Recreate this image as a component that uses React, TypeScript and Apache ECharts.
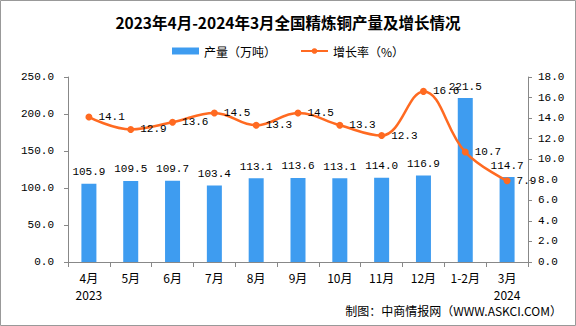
import React, { useEffect, useRef } from "react";
import * as echarts from "echarts";

const categories = ["4月\n2023", "5月", "6月", "7月", "8月", "9月", "10月", "11月", "12月", "1-2月", "3月\n2024"];
const output = [105.9, 109.5, 109.7, 103.4, 113.1, 113.6, 113.1, 114.0, 116.9, 221.5, 114.7];
const growth = [14.1, 12.9, 13.6, 14.5, 13.3, 14.5, 13.3, 12.3, 16.6, 10.7, 7.9];
const titleText = "2023年4月-2024年3月全国精炼铜产量及增长情况";
const barName = "产量（万吨）";
const lineName = "增长率（%）";
const footerText = "制图：中商情报网（WWW.ASKCI.COM）";

const MONO = "'Liberation Mono', 'DejaVu Sans Mono', monospace";
const CJK = "'Noto Sans CJK SC', sans-serif";

export default function App() {
  const ref = useRef<HTMLDivElement>(null);
  useEffect(() => {
    if (!ref.current) return;
    const chart = echarts.init(ref.current, undefined, { renderer: "svg" });
    chart.setOption({
      animation: false,
      backgroundColor: "#ffffff",
      title: {
        text: titleText,
        left: "center",
        top: 9,
        textStyle: { fontSize: 15.5, fontWeight: "bold", color: "#000", fontFamily: CJK },
      },
      legend: {
        top: 40,
        left: "center",
        itemGap: 24,
        itemWidth: 27,
        itemHeight: 7,
        textStyle: { fontSize: 12, color: "#000", fontFamily: CJK },
        data: [
          { name: barName, icon: "rect" },
          { name: lineName },
        ],
      },
      grid: { left: 68, right: 48, top: 77, bottom: 64, containLabel: false },
      xAxis: {
        type: "category",
        data: categories,
        axisLine: { lineStyle: { color: "#888" } },
        axisTick: { show: true, alignWithLabel: false, length: 5, lineStyle: { color: "#888" } },
        axisLabel: { color: "#000", fontSize: 12, fontFamily: CJK, lineHeight: 17, margin: 7, interval: 0 },
      },
      yAxis: [
        {
          type: "value",
          min: 0,
          max: 250,
          interval: 50,
          splitLine: { show: false },
          axisLine: { show: true, lineStyle: { color: "#888" } },
          axisTick: { show: true, length: 4, lineStyle: { color: "#888" } },
          axisLabel: { color: "#000", fontSize: 11, fontFamily: MONO, margin: 14, formatter: (v: number) => v.toFixed(1) },
        },
        {
          type: "value",
          min: 0,
          max: 18,
          interval: 2,
          splitLine: { show: false },
          axisLine: { show: true, lineStyle: { color: "#888" } },
          axisTick: { show: true, length: 4, lineStyle: { color: "#888" } },
          axisLabel: { color: "#000", fontSize: 11, fontFamily: MONO, margin: 10, formatter: (v: number) => v.toFixed(1) },
        },
      ],
      series: [
        {
          name: barName,
          type: "bar",
          data: output,
          barWidth: 15,
          itemStyle: { color: "#3E9CF0" },
          label: {
            show: true,
            position: "top",
            distance: 6,
            color: "#000",
            fontSize: 11,
            fontFamily: MONO,
            formatter: (p: any) => Number(p.value).toFixed(1),
          },
        },
        {
          name: lineName,
          type: "line",
          yAxisIndex: 1,
          data: growth,
          smooth: 0.4,
          symbol: "circle",
          symbolSize: 7,
          lineStyle: { color: "#FF6A21", width: 2.5 },
          itemStyle: { color: "#FF6A21" },
          label: {
            show: true,
            position: "right",
            distance: 6,
            color: "#000",
            fontSize: 11,
            fontFamily: MONO,
            formatter: (p: any) => Number(p.value).toFixed(1),
          },
          z: 5,
        },
      ],
      graphic: [
        {
          type: "rect",
          shape: { x: 0.5, y: 0.5, width: 575, height: 325 },
          style: { fill: "none", stroke: "#999", lineWidth: 1 },
          silent: true,
        },
        {
          type: "text",
          right: 14,
          top: 304,
          style: { text: footerText, fontSize: 12, fontFamily: CJK, fill: "#000" },
        },
      ],
    });
    return () => chart.dispose();
  }, []);
  return <div ref={ref} style={{ position: "absolute", left: 0, top: 0, width: 576, height: 326 }} />;
}
